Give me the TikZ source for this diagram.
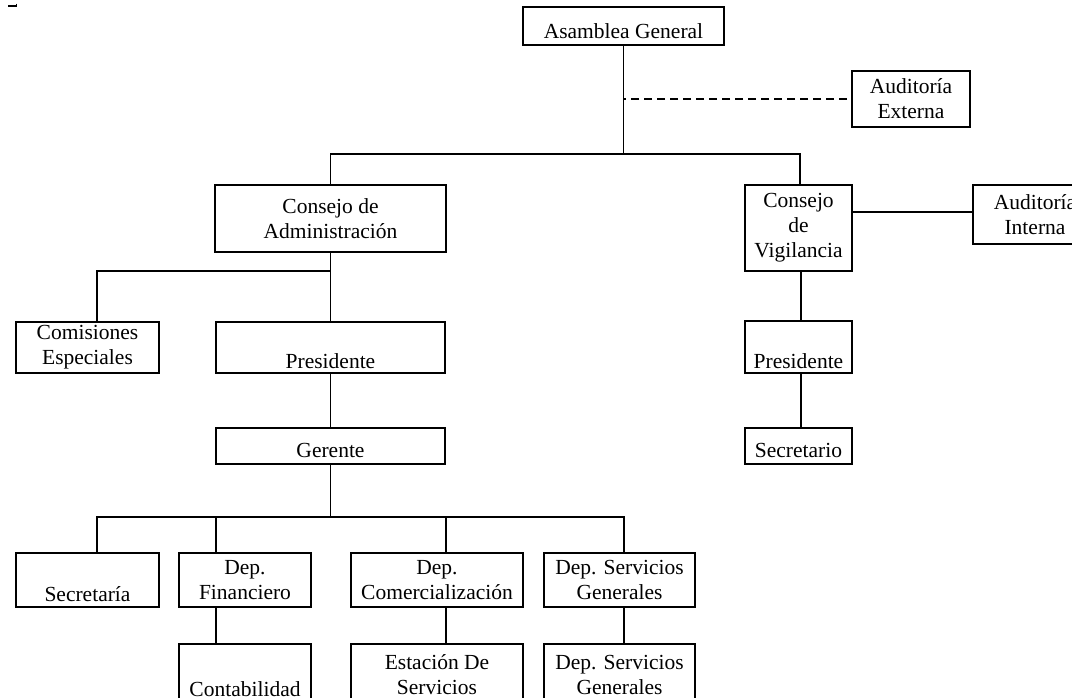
\documentclass[tikz,border=0pt]{standalone}
\usepackage{fontspec}
\setmainfont{Liberation Serif}
\usetikzlibrary{calc}
\tikzset{
  orgbox/.style={draw, line width=1.2pt, inner sep=0pt, outer sep=0pt, align=center,
    font=\fontsize{21.5pt}{25pt}\selectfont},
  link/.style={line width=1.2pt},
  thickedge/.style={line width=2.4pt},
  lowtext/.style={text height=#1, text depth=5pt},
}
\newcommand\orgnode[6][]{%
  \node[orgbox,#1, minimum width={(#4)-(#2)}, minimum height={(#5)-(#3)}]
    (#6) at ({((#2)+(#4))/2},{((#3)+(#5))/2})}
\begin{document}
\begin{tikzpicture}[x=1pt,y=-1pt]
\useasboundingbox (0,0) rectangle (1072,697);
\clip (0,0) rectangle (1072,697);
\fill[white] (0,0) rectangle (1072,697);

% small mark at top left
\draw[line width=1.6pt] (8,6) -- (16,6);
\draw[line width=1pt] (16.5,3.5) -- (16.5,7);

% boxes
\orgnode[lowtext=29pt]{523}{7}{724}{45}{asam} {Asamblea General};
\orgnode{852}{71}{970}{127}{aext} {Auditoría\\Externa};
\orgnode{215}{185}{446}{252}{cadm} {Consejo de\\Administración};
\orgnode{745}{185}{852}{271}{cvig} {Consejo\\de\\Vigilancia};
\orgnode{973}{185}{1097}{244}{aint} {Auditoría\\Interna};
\orgnode{16}{322}{159}{373}{com} {Comisiones\\Especiales};
\orgnode{216}{322}{445}{373}{presA} {\strut\\Presidente};
\orgnode[lowtext=27pt]{216}{428}{445}{464}{ger} {Gerente};
\orgnode{745}{321}{852}{373}{presB} {\strut\\Presidente};
\orgnode[lowtext=27pt]{745}{428}{852}{464}{secr} {Secretario};
\orgnode{16}{553}{159}{607}{sec} {\strut\\Secretaría};
\orgnode{179}{553}{311}{607}{fin} {Dep.\\Financiero};
\orgnode{351}{553}{523}{607}{comer} {Dep.\\Comercialización};
\orgnode{544}{553}{695}{607}{servA} {Dep. Servicios\\Generales};
\orgnode{179}{644}{311}{706}{cont} {\strut\\Contabilidad};
\orgnode{351}{644}{523}{706}{est} {Estación De\\Servicios};
\orgnode{544}{644}{695}{706}{servB} {Dep. Servicios\\Generales};

% heavier edges on the two councils
\draw[thickedge] (cadm.north west) -- (cadm.north east) -- ++(0,25);
\draw[thickedge] ([yshift=-27pt]cvig.north west) -- (cvig.north west) -- (cvig.north east);

% connectors
\coordinate (busA) at (624,154);
\coordinate (busB) at (330.5,271);
\coordinate (busC) at (330.5,517);

\draw[link] (asam.south) -- (asam.south |- busA);
\draw[link] (cadm.north) |- (busA) -| ([xshift=1.5pt]cvig.north);
\draw[link, dash pattern=on 8pt off 5pt] ([xshift=-5pt]aext.west) -- (asam.south |- aext.west);
\draw[link] ([yshift=2.5pt]aint.west) -- ([yshift=2.5pt]aint.west -| cvig.east);

\draw[link] (cadm.south) -- (presA.north);
\draw[link] ([xshift=9.5pt]com.north) |- (busB);
\draw[link] (presA.south) -- (ger.north);
\draw[link] (ger.south) -- (busC);
\draw[link] ([xshift=9.5pt]sec.north) |- ([xshift=4.5pt]servA.north |- busC) -- ([xshift=4.5pt]servA.north);
\draw[link] ([xshift=-29pt]fin.north) -- ([xshift=-29pt]fin.north |- busC);
\draw[link] ([xshift=9pt]comer.north) -- ([xshift=9pt]comer.north |- busC);
\draw[link] ([xshift=-29pt]fin.south) -- ([xshift=-29pt]cont.north);
\draw[link] ([xshift=9pt]comer.south) -- ([xshift=9pt]est.north);
\draw[link] ([xshift=4.5pt]servA.south) -- ([xshift=4.5pt]servB.north);

\draw[link] ([xshift=2.5pt]cvig.south) -- ([xshift=2.5pt]presB.north);
\draw[link] ([xshift=2.5pt]presB.south) -- ([xshift=2.5pt]secr.north);
\end{tikzpicture}
\end{document}
